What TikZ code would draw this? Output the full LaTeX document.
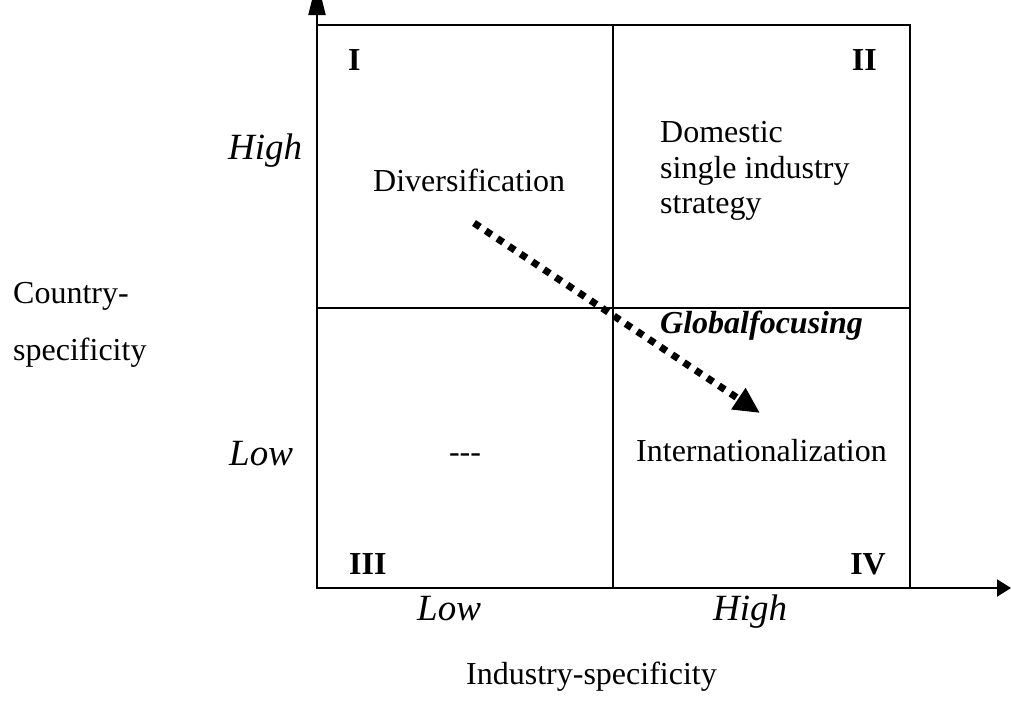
\documentclass[tikz,border=0pt]{standalone}
\usepackage{fontspec}
\setmainfont{Liberation Serif}
\usepackage{tikz}
\usetikzlibrary{arrows.meta}
\tikzset{
  axis/.style={draw=black,line width=2pt},
  cell/.style={draw=black,line width=2pt},
  txt/.style={inner sep=0pt,font=\fontsize{32}{36}\selectfont},
  level/.style={inner sep=0pt,font=\fontsize{37}{40}\selectfont\itshape},
  quad/.style={inner sep=0pt,font=\fontsize{32}{36}\selectfont\bfseries},
  move/.style={draw=black,line width=7pt,dash pattern=on 7pt off 7pt,
    -{Triangle[length=26pt,width=24pt]}},
}

\begin{document}
\begin{tikzpicture}[x=1pt,y=-1pt]
\useasboundingbox (0,0) rectangle (1011,702);
% axes
\coordinate (o) at (317,588);
\coordinate (ytip) at (317,-20);
\coordinate (xtip) at (1011,588);
\draw[axis,-{Triangle[length=35pt,width=17pt]}] (o) -- (ytip);
\draw[axis,-{Triangle[length=14pt,width=17pt]}] (o) -- (xtip);
% the four cells
\draw[cell] (317,25) rectangle (910,588);
\draw[cell] (613,25) -- (613,588);
\draw[cell] (317,308) -- (910,308);
% cell numbers
\node[quad,anchor=base west] (q1) at (348,70) {I};
\node[quad,anchor=base east] (q2) at (877,70) {II};
\node[quad,anchor=base west] (q3) at (349,574) {III};
\node[quad,anchor=base east] (q4) at (886,574) {IV};
% cell contents
\node[txt,anchor=base west] (div) at (373,191) {Diversification};
\node[txt,anchor=base west] (dom1) at (660,142) {Domestic};
\node[txt,anchor=base west] (dom2) at (660,178) {single industry};
\node[txt,anchor=base west] (dom3) at (660,213) {strategy};
\node[txt,anchor=base west,font=\fontsize{32}{36}\selectfont\bfseries\itshape] (glob) at (660,333) {Globalfocusing};
\node[txt,anchor=base] (none) at (465,462) {-{}-{}-};
\node[txt,anchor=base west] (intl) at (636,461) {Internationalization};
% levels on both axes
\node[level,anchor=base west] (yhigh) at (228,159) {High};
\node[level,anchor=base west] (ylow) at (229,465) {Low};
\node[level,anchor=base west] (xlow) at (417,620) {Low};
\node[level,anchor=base west] (xhigh) at (713,620) {High};
% axis titles
\node[txt,anchor=base west] (ytitle1) at (13,303) {Country-};
\node[txt,anchor=base west] (ytitle2) at (13,360) {specificity};
\node[txt,anchor=base west] (xtitle) at (466,684) {Industry-specificity};
% move from diversification to internationalization
\coordinate (from) at (474,223);
\coordinate (to) at (760,413);
\draw[move] (from) -- (to);
\end{tikzpicture}
\end{document}
